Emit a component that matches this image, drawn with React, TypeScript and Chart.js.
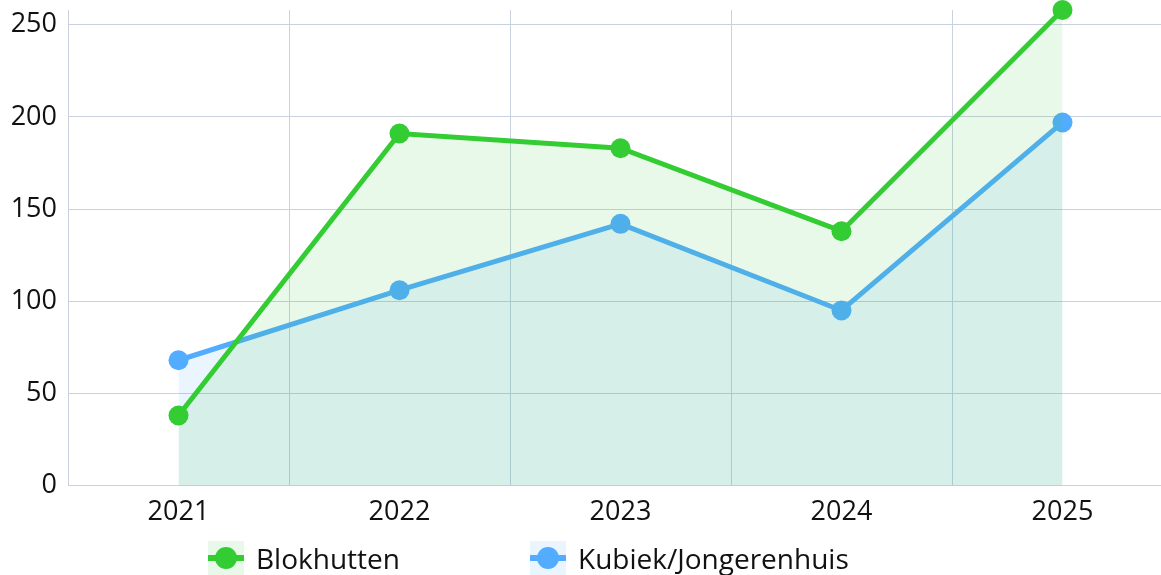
import React, { useEffect, useRef } from "react";
import { Chart, registerables } from "chart.js";

Chart.register(...registerables);

const categories = ["2021", "2022", "2023", "2024", "2025"];
const blokhutten = [38, 191, 183, 138, 258];
const kubiek = [68, 106, 142, 95, 197];
const seriesNames = ["Blokhutten", "Kubiek/Jongerenhuis"];
const yTickStep = 50;

const GREEN = "#33cc33";
const GREEN_FILL = "rgba(51,204,51,0.11)";
const BLUE = "#52acff";
const BLUE_FILL = "rgba(82,172,255,0.12)";
const GRID = "#c9d0de";
const FONT = "'Open Sans', 'Noto Sans', sans-serif";

const legendItems = [
  { name: seriesNames[0], color: GREEN, fill: GREEN_FILL, left: 208 },
  { name: seriesNames[1], color: BLUE, fill: BLUE_FILL, left: 530 },
];

export default function App() {
  const canvasRef = useRef<HTMLCanvasElement | null>(null);

  useEffect(() => {
    const canvas = canvasRef.current;
    if (!canvas) return;
    const chart = new Chart(canvas, {
      type: "line",
      data: {
        labels: categories,
        datasets: [
          {
            label: seriesNames[0],
            data: blokhutten,
            borderColor: GREEN,
            backgroundColor: GREEN_FILL,
            pointBackgroundColor: GREEN,
            borderWidth: 5,
            pointRadius: 10,
            pointBorderWidth: 0,
            pointHoverRadius: 10,
            fill: "origin",
            tension: 0,
            clip: false as any,
          },
          {
            label: seriesNames[1],
            data: kubiek,
            borderColor: BLUE,
            backgroundColor: BLUE_FILL,
            pointBackgroundColor: BLUE,
            borderWidth: 5,
            pointRadius: 10,
            pointBorderWidth: 0,
            pointHoverRadius: 10,
            fill: "origin",
            tension: 0,
            clip: false as any,
          },
        ],
      },
      options: {
        responsive: false,
        animation: false,
        layout: {
          autoPadding: false,
          padding: { top: 10, left: 0, right: 0, bottom: 5 },
        },
        plugins: {
          legend: { display: false },
          tooltip: { enabled: false },
        },
        scales: {
          x: {
            offset: true,
            grid: {
              offset: true,
              color: GRID,
              lineWidth: 1,
              drawTicks: false,
            },
            border: { color: GRID, width: 1 },
            ticks: {
              color: "#111",
              padding: 11,
              font: { family: FONT, size: 27 },
            },
          },
          y: {
            min: 0,
            max: Math.max(...blokhutten, ...kubiek),
            grid: { color: GRID, lineWidth: 1, drawTicks: false },
            border: { color: GRID, width: 1 },
            ticks: {
              stepSize: yTickStep,
              includeBounds: false,
              color: "#111",
              padding: 11,
              font: { family: FONT, size: 27 },
            },
            afterFit: (scale: any) => {
              scale.width = 68;
              scale.paddingTop = 0;
              scale.paddingBottom = 0;
            },
          },
        },
      },
    });
    return () => chart.destroy();
  }, []);

  return (
    <div
      style={{
        position: "fixed",
        left: 0,
        top: 0,
        width: 1161,
        height: 575,
        overflow: "hidden",
        background: "#fff",
      }}
    >
      <canvas
        ref={canvasRef}
        width={1173}
        height={545}
        style={{ position: "absolute", left: 0, top: 0, width: 1173, height: 545 }}
      />
      {legendItems.map((it) => (
        <div
          key={it.name}
          style={{
            position: "absolute",
            left: it.left,
            top: 541,
            height: 34,
            display: "flex",
            alignItems: "center",
            fontFamily: FONT,
            fontSize: 28,
            color: "#111",
            whiteSpace: "nowrap",
          }}
        >
          <div
            style={{
              position: "relative",
              width: 36,
              height: 34,
              background: it.fill,
              marginRight: 12,
            }}
          >
            <div
              style={{
                position: "absolute",
                left: 0,
                top: 14,
                width: 36,
                height: 6,
                background: it.color,
              }}
            />
            <div
              style={{
                position: "absolute",
                left: 7,
                top: 6,
                width: 22,
                height: 22,
                borderRadius: "50%",
                background: it.color,
              }}
            />
          </div>
          <span>{it.name}</span>
        </div>
      ))}
    </div>
  );
}
